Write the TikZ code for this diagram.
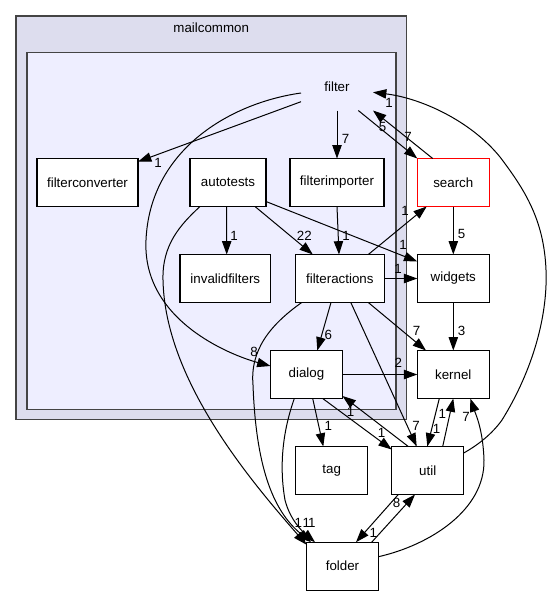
\documentclass[tikz,border=0pt]{standalone}
\usepackage{fontspec}
\setmainfont{Liberation Sans}
\usetikzlibrary{arrows.meta,calc}
\definecolor{clouter}{HTML}{DDDDEE}
\definecolor{clinner}{HTML}{EEEEFF}
\definecolor{clborder}{HTML}{444444}
\begin{document}
\begin{tikzpicture}[x=0.75pt,y=-0.75pt,
  txt/.style={font=\fontsize{10}{12}\selectfont},
  box/.style={txt, draw=black, fill=white, line width=0.8pt, minimum height=36pt, minimum width=54pt, inner sep=0pt, outer sep=0pt},
  redbox/.style={box, draw=red},
  plainlbl/.style={txt, minimum height=36pt, minimum width=54pt, inner sep=0pt, outer sep=0pt},
  cluster/.style={draw=clborder, line width=1.2pt},
  edge/.style={draw=black, line width=0.75pt, -{Triangle[length=10pt,width=7pt]}},
  elbl/.style={txt, inner sep=0pt}]
\useasboundingbox (0,0) rectangle (551,596);
\fill[white] (0,0) rectangle (551,596);
% clusters
\filldraw[cluster, fill=clouter] (16,16) rectangle (406.5,419.5);
\node[txt] (mailcommonlbl) at (211.2,28) {mailcommon};
\filldraw[cluster, fill=clinner] (26.7,52.3) rectangle (396,409.3);
% nodes
\node[plainlbl] (filter) at (337,86.5) {filter};
\node[box, minimum width=75.75pt] (filterconverter) at (87.5,182.5) {filterconverter};
\node[box, minimum width=57pt] (autotests) at (228,182.5) {autotests};
\node[box, minimum width=70.5pt] (filterimporter) at (337,182.5) {filterimporter};
\node[redbox] (search) at (453.3,182.5) {search};
\node[box, minimum width=68pt] (invalidfilters) at (225.3,278.5) {invalidfilters};
\node[box, minimum width=66.75pt] (filteractions) at (339.8,278.5) {filteractions};
\node[box] (widgets) at (453.3,278.5) {widgets};
\node[box] (dialog) at (306.5,374.5) {dialog};
\node[box] (kernel) at (453.3,374.5) {kernel};
\node[box] (tag) at (331.7,470.5) {tag};
\node[box] (util) at (427.7,470.5) {util};
\node[box] (folder) at (342.5,566.2) {folder};
% edges
\draw[edge] ($(filter.west)+(0,15.2)$) -- ($(filterconverter.north east)+(0,3.2)$);
\draw[edge] ($(filter.west)+(0,6.5)$) .. controls (230,103) and (150,150) .. (146,240) .. controls (142,320) and (230,355) .. ($(dialog.west)+(0,-8.5)$);
\draw[edge] (filter.south) -- (filterimporter.north);
\draw[edge] ($(filter.south)+(21.3,0)$) -- (search.north west);
\draw[edge] ($(search.north)+(-20.6,0)$) -- (filter.south east);
\draw[edge] ($(util.north east)+(0,6.5)$) .. controls (478,445) and (492,434) .. (502,420) .. controls (530,375) and (548,320) .. (546,270) .. controls (544,220) and (525,190) .. (500,157) .. controls (470,120) and (420,98) .. ($(filter.east)+(0,5.8)$);
\draw[edge] ($(autotests.south)+(-1.3,0)$) -- ($(invalidfilters.north)+(1.4,0)$);
\draw[edge] ($(autotests.south)+(27,0)$) -- ($(filteractions.north)+(-27,0)$);
\draw[edge] ($(autotests.south east)+(0,-5)$) -- ($(widgets.west)+(0,-17)$);
\draw[edge] ($(autotests.south)+(-28,0)$) .. controls (180,225) and (162,245) .. (163,280) .. controls (165,380) and (250,480) .. ($(folder.north west)+(0,2.5)$);
\draw[edge] (filterimporter.south) -- ($(filteractions.north)+(-0.8,0)$);
\draw[edge] ($(filteractions.north)+(28.5,0)$) -- ($(search.south west)+(9.4,0)$);
\draw[edge] (filteractions.east) -- (widgets.west);
\draw[edge] ($(filteractions.south)+(-8.8,0)$) -- ($(dialog.north)+(10.8,0)$);
\draw[edge] ($(filteractions.south)+(28.5,0)$) -- ($(kernel.north west)+(8.7,0)$);
\draw[edge] ($(filteractions.south)+(11,0)$) -- ($(util.north)+(-11,0)$);
\draw[edge] ($(filteractions.south west)+(6.4,0)$) .. controls (270,325) and (250,350) .. (253,385) .. controls (256,465) and (272,510) .. ($(folder.north west)+(4.5,0)$);
\draw[edge] ($(dialog.south)+(-12.2,0)$) .. controls (285,425) and (278,460) .. (285,500) .. controls (290,520) and (303,532) .. ($(folder.north west)+(8.5,0)$);
\draw[edge] ($(dialog.south)+(6.2,0)$) -- ($(tag.north)+(-8.4,0)$);
\draw[edge] ($(dialog.south)+(16.2,0)$) -- ($(util.north west)+(0,3)$);
\draw[edge] (dialog.east) -- (kernel.west);
\draw[edge] ($(util.north)+(-19.4,0)$) -- ($(dialog.south east)+(0,-2.5)$);
\draw[edge] ($(util.north)+(15,0)$) -- (kernel.south);
\draw[edge] ($(kernel.south)+(-14,0)$) -- ($(util.north)+(-0.4,0)$);
\draw[edge] ($(folder.east)+(0,-9.5)$) .. controls (430,545) and (485,510) .. (484,460) .. controls (483,430) and (476,415) .. ($(kernel.south)+(17,0)$);
\draw[edge] ($(folder.north)+(29.2,0)$) -- ($(util.south)+(-12.7,0)$);
\draw[edge] ($(util.south)+(-29.4,0)$) -- ($(folder.north)+(13.5,0)$);
\draw[edge] (search.south) -- (widgets.north);
\draw[edge] (widgets.south) -- (kernel.north);
% edge labels
\node[elbl] (l01) at (158,163) {1};
\node[elbl] (l02) at (254,351.7) {8};
\node[elbl] (l03) at (345.7,139.3) {7};
\node[elbl] (l04) at (382.7,127.3) {5};
\node[elbl] (l05) at (408,137.3) {7};
\node[elbl] (l06) at (389,102.7) {1};
\node[elbl] (l07) at (234,236) {1};
\node[elbl] (l08) at (304.3,236) {22};
\node[elbl] (l09) at (403,245) {1};
\node[elbl] (l10) at (298.3,522.5) {1};
\node[elbl] (l11) at (346,236) {1};
\node[elbl] (l12) at (405,211) {1};
\node[elbl] (l13) at (398,269) {1};
\node[elbl] (l14) at (328.3,335) {6};
\node[elbl] (l15) at (416.7,331) {7};
\node[elbl] (l16) at (416,426) {7};
\node[elbl] (l17) at (306.3,522.5) {1};
\node[elbl] (l18) at (311.8,522.5) {1};
\node[elbl] (l19) at (328.3,426) {1};
\node[elbl] (l20) at (381.7,432.7) {1};
\node[elbl] (l21) at (398.3,363.3) {2};
\node[elbl] (l22) at (350.7,412) {1};
\node[elbl] (l23) at (442.3,414) {1};
\node[elbl] (l24) at (436.7,429.3) {1};
\node[elbl] (l25) at (466,416.7) {7};
\node[elbl] (l26) at (373.3,532.5) {1};
\node[elbl] (l27) at (396.7,502.7) {8};
\node[elbl] (l28) at (461.7,234.3) {5};
\node[elbl] (l29) at (461.7,331) {3};
\end{tikzpicture}
\end{document}
